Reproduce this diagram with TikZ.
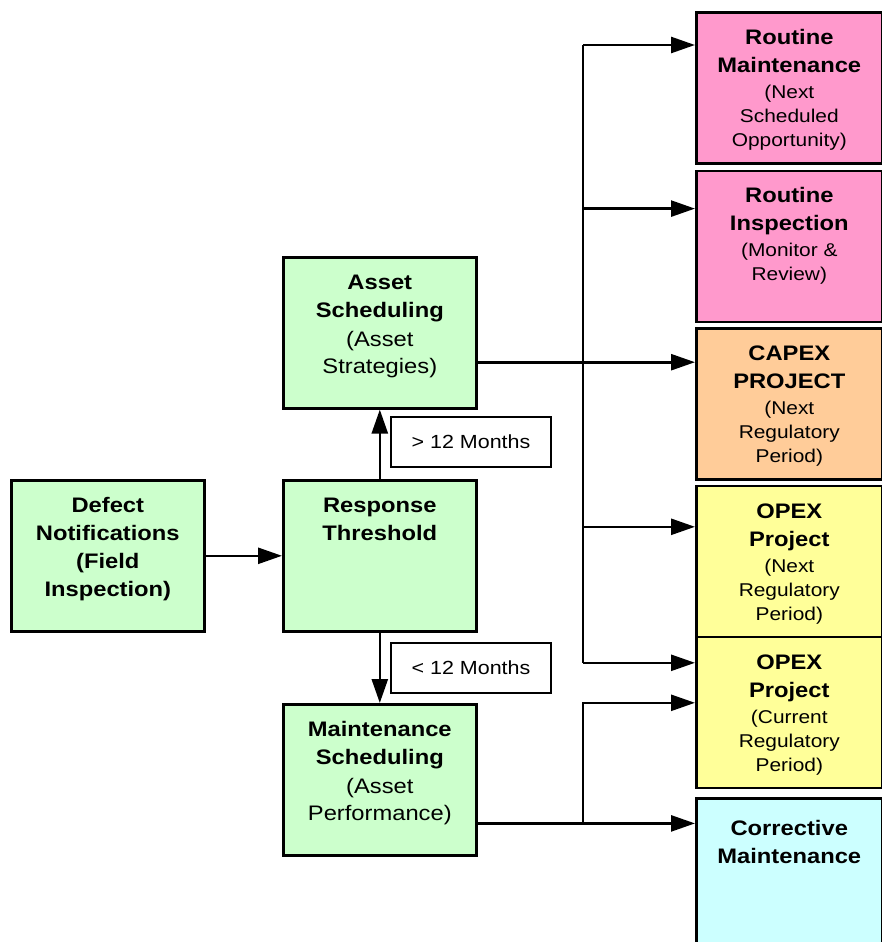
\documentclass[tikz,border=0pt]{standalone}
\usepackage{fontspec}
\setmainfont{Liberation Sans}[FakeStretch=1.13]
\usepackage{tikz}
\usetikzlibrary{positioning,calc}
\usetikzlibrary{arrows.meta}

\definecolor{stagegreen}{HTML}{CCFFCC}
\definecolor{stagepink}{HTML}{FF99CC}
\definecolor{stageorange}{HTML}{FFCC99}
\definecolor{stageyellow}{HTML}{FFFF99}
\definecolor{stagecyan}{HTML}{CCFFFF}

% bold heading, then the note in brackets, both hung from the top edge
% optional argument: size and skip of the note
\newcommand{\stagetext}[3][{18.5}{24}]{%
  \parbox[c][151pt][t]{185pt}{\centering
    {\bfseries\fontsize{21}{28}\selectfont\rule{0pt}{32pt}#2\par}\vspace{2pt}
    {\fontsize#1\selectfont #3\par}}}

\tikzset{
  stage/.style={draw, line width=2.6pt, anchor=north west, inner sep=0pt,
    minimum width=193pt, minimum height=151pt},
  outcome/.style={stage, minimum width=186pt},
  tag/.style={draw, line width=2.6pt, fill=white, minimum width=160pt,
    minimum height=50pt, inner sep=0pt, font=\fontsize{19}{22}\selectfont},
  flow/.style={line width=2.6pt, -{Triangle[length=24pt,width=16pt]}},
  bus/.style={line width=2.6pt}
}

\begin{document}
\begin{tikzpicture}[x=1pt, y=-1pt]
    \useasboundingbox (0,0) rectangle (882,942);

    \node (defect) [stage, fill=stagegreen] at (10,479)
      {\stagetext{Defect\\Notifications\\(Field\\Inspection)}{}};
    \node (resp) [stage, fill=stagegreen] at (282,479)
      {\stagetext{Response\\Threshold}{}};
    \node (asset) [stage, fill=stagegreen] at (282,256)
      {\stagetext[{21}{27}]{Asset\\Scheduling}{(Asset\\Strategies)}};
    \node (maint) [stage, fill=stagegreen] at (282,703)
      {\stagetext[{21}{27}]{Maintenance\\Scheduling}{(Asset\\Performance)}};

    \node (gt) [tag] at (471,442) {> 12 Months};
    \node (lt) [tag] at (471,668) {< 12 Months};

    % outcomes, stacked down the right side
    \node (rmaint) [outcome, fill=stagepink] at (695,11)
      {\stagetext{Routine\\Maintenance}{(Next\\Scheduled\\Opportunity)}};
    \node (rinsp) [outcome, fill=stagepink, below=5pt of rmaint.south west, anchor=north west]
      {\stagetext{Routine\\Inspection}{(Monitor \&\\Review)}};
    \node (capex) [outcome, fill=stageorange, below=4pt of rinsp.south west, anchor=north west]
      {\stagetext{CAPEX\\PROJECT}{(Next\\Regulatory\\Period)}};
    \node (opexn) [outcome, fill=stageyellow, below=4pt of capex.south west, anchor=north west]
      {\stagetext{OPEX\\Project}{(Next\\Regulatory\\Period)}};
    \node (opexc) [outcome, fill=stageyellow, minimum height=149pt, below=-2.6pt of opexn.south west, anchor=north west]
      {\stagetext{OPEX\\Project}{(Current\\Regulatory\\Period)}};
    \node (corr) [outcome, fill=stagecyan, minimum height=160pt, below=8pt of opexc.south west, anchor=north west]
      {\stagetext{Corrective\\Maintenance}{}};

    % where the arrows come in
    \path (rmaint.north west) ++(0,34) coordinate (rmaint in);
    \path (rinsp.north west) ++(0,39) coordinate (rinsp in);
    \path (capex.north west) ++(0,35) coordinate (capex in);
    \path (opexn.north west) ++(0,42) coordinate (opexn in);
    \path (opexc.north west) ++(0,27) coordinate (opexc in);
    \path (opexc.north west) ++(0,67) coordinate (opexc in2);
    \path (corr.north west) ++(0,26) coordinate (corr in);
    \coordinate (bus) at (583,0);

    \draw[flow] (defect) -- (defect -| resp.west);
    \draw[flow] (resp.north) -- (asset.south);
    \draw[flow] (resp.south) -- (maint.north);

    \draw[flow] (asset.east |- capex in) -- (capex in);
    \draw[bus] (bus |- rmaint in) -- (bus |- opexc in);
    \draw[flow] (bus |- rmaint in) -- (rmaint in);
    \draw[flow] (bus |- rinsp in) -- (rinsp in);
    \draw[flow] (bus |- opexn in) -- (opexn in);
    \draw[flow] (bus |- opexc in) -- (opexc in);

    \draw[flow] (maint.east |- corr in) -- (corr in);
    \draw[flow] (bus |- corr in) |- (opexc in2);
\end{tikzpicture}
\end{document}
